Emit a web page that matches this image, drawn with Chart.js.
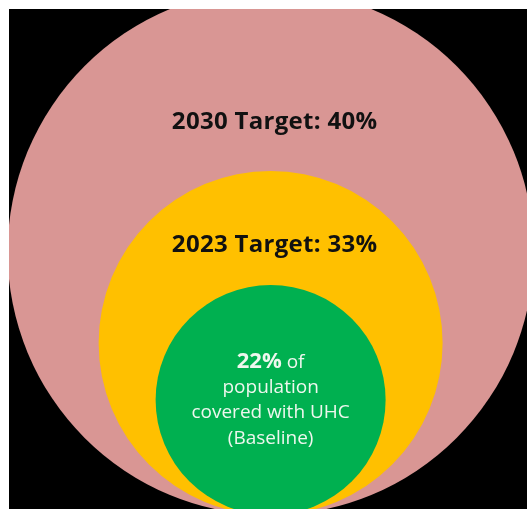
<!DOCTYPE html>
<html>
<head>
<meta charset="utf-8">
<script src="https://cdn.jsdelivr.net/npm/chart.js@4"></script>
<style>
  body { margin: 0; background: #fff; }
  #wrap { position: absolute; left: 9px; top: 9px; width: 518px; height: 500px; background: #000; }
</style>
</head>
<body>
<div id="wrap"><canvas id="uhcChart" width="518" height="500"></canvas></div>
<script>
// UHC coverage, largest circle first so the smaller ones are drawn on top
const years = ['2030', '2023', 'Baseline'];
const coverage = [40, 33, 22];
const colors = ['#d99694', '#ffc000', '#00b050'];

// drawing only: circle radius in px (all circles touch at the bottom) and label offset as share of radius
const radiusPx = [263, 172, 115];
const labelShift = [-0.495, -0.57, 0];

const circleLabels = {
  id: 'circleLabels',
  afterDatasetsDraw(chart) {
    const c = chart.ctx;
    const meta = chart.getDatasetMeta(0);
    c.save();
    c.textBaseline = 'middle';
    meta.data.forEach((el, i) => {
      const r = el.options.radius;
      const y = el.y + r * labelShift[i];
      if (i < 2) {
        c.textAlign = 'center';
        c.fillStyle = '#111';
        c.font = 'bold 24px "Open Sans"';
        c.letterSpacing = '0.3px';
        c.fillText(years[i] + ' Target: ' + coverage[i] + '%', el.x + 4, y);
        c.letterSpacing = '0px';
        return;
      }
      const lh = 25.5;
      const top = y - 1.5 * lh;
      c.fillStyle = '#eef7ee';
      // first line mixes a bold number with normal text
      const big = coverage[i] + '%';
      const small = ' of';
      c.font = 'bold 22px "Open Sans"';
      const wBig = c.measureText(big).width;
      c.font = '19px "Open Sans"';
      const wSmall = c.measureText(small).width;
      const x0 = el.x - (wBig + wSmall) / 2;
      c.textAlign = 'left';
      c.font = 'bold 22px "Open Sans"';
      c.fillText(big, x0, top);
      c.font = '19px "Open Sans"';
      c.fillText(small, x0 + wBig, top + 1);
      c.textAlign = 'center';
      ['population', 'covered with UHC', '(' + years[i] + ')'].forEach((t, k) => {
        c.fillText(t, el.x, top + (k + 1) * lh);
      });
    });
    c.restore();
  }
};

const ctx = document.getElementById('uhcChart').getContext('2d');
new Chart(ctx, {
  type: 'bubble',
  data: {
    labels: years,
    datasets: [{
      data: coverage.map((v, i) => ({ x: 0, y: radiusPx[i], r: radiusPx[i] })),
      backgroundColor: colors,
      borderWidth: 0,
      hoverRadius: 0
    }]
  },
  options: {
    responsive: false,
    animation: false,
    events: [],
    layout: { padding: 0, autoPadding: false },
    plugins: { legend: { display: false }, tooltip: { enabled: false } },
    scales: {
      x: { display: false, min: -1, max: 0.98 },
      y: { display: false, min: 6, max: 506 }
    }
  },
  plugins: [circleLabels]
});
</script>
</body>
</html>
